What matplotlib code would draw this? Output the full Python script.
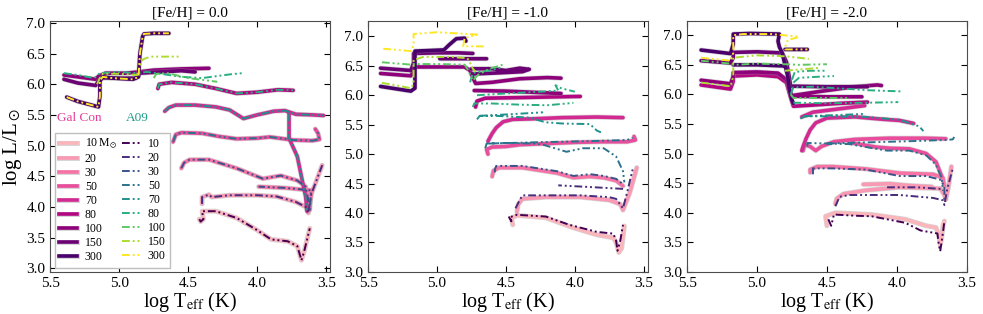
import numpy as np
import matplotlib
matplotlib.use('Agg')
import matplotlib.pyplot as plt
import matplotlib.patheffects as pe
from matplotlib.lines import Line2D

plt.rcParams['font.family'] = ['Liberation Serif', 'DejaVu Serif']
plt.rcParams['mathtext.fontset'] = 'stix'

nan = np.nan

masses = [10, 20, 30, 50, 70, 80, 100, 150, 300]
titles = ['[Fe/H] = 0.0', '[Fe/H] = -1.0', '[Fe/H] = -2.0']

# tracks as (log Teff, log L); nan splits a track into strands

# ---- [Fe/H] = 0.0 ----
gc_z0_10 = [(4.42, 3.80), (4.41, 3.76), (4.39, 3.80), (4.40, 3.93), (4.30, 3.93), (4.15, 3.82), (4.00, 3.62),
            (3.90, 3.47), (3.78, 3.44), (3.71, 3.36), (3.68, 3.13), (3.66, 3.28), (3.62, 3.65)]
gc_z0_20 = [(4.40, 4.05), (4.40, 4.16), (4.35, 4.20), (4.33, 4.16), (4.20, 4.19), (4.00, 4.19), (3.86, 4.17),
            (3.72, 4.08), (3.65, 4.00), (3.63, 3.90), (3.61, 4.20), (3.53, 4.68)]
gc_z0_30 = [(4.55, 4.63), (4.53, 4.72), (4.49, 4.77), (4.35, 4.77), (4.15, 4.63), (3.96, 4.46), (3.83, 4.51),
            (3.71, 4.43), (3.65, 4.33), (3.63, 4.10), (3.62, 3.95), (3.61, 4.27), (3.80, 4.31), (3.99, 4.33)]
gc_z0_50 = [(4.61, 5.06), (4.59, 5.18), (4.55, 5.21), (4.40, 5.20), (4.28, 5.15), (4.15, 5.11), (4.00, 5.12),
            (3.91, 5.14), (3.74, 5.09), (3.60, 5.08), (3.55, 5.10), (3.56, 5.20), (3.58, 5.27)]
gc_z0_70 = [(4.67, 5.56), (4.64, 5.62), (4.59, 5.66), (4.45, 5.66), (4.30, 5.63), (4.20, 5.58), (4.10, 5.44),
            (4.00, 5.50), (3.88, 5.56), (3.80, 5.57), (3.72, 5.51), (3.60, 5.50), (3.52, 5.49), (nan, nan),
            (3.77, 5.52), (3.77, 5.12), (3.71, 4.82), (3.68, 4.49), (3.65, 4.17), (3.64, 3.93)]
gc_z0_80 = [(4.72, 5.93), (4.71, 6.00), (4.62, 6.03), (4.45, 6.00), (4.30, 5.93), (4.15, 5.85), (4.00, 5.87),
            (3.85, 5.91), (3.74, 5.90)]
gc_z0_100 = [(5.40, 6.15), (5.30, 6.12), (5.17, 6.08), (5.15, 6.13), (5.10, 6.18), (4.95, 6.18), (4.86, 6.20),
             (4.75, 6.23), (4.55, 6.25), (4.35, 6.26)]
gc_z0_150 = [(5.40, 6.08), (5.30, 6.02), (5.17, 5.98), (5.15, 6.05), (5.12, 6.10), (5.00, 6.10), (4.88, 6.10),
             (4.85, 6.18), (4.70, 6.20), (4.55, 6.22), (4.45, 6.20)]
gc_z0_300 = [(5.38, 5.79), (5.30, 5.72), (5.20, 5.66), (5.15, 5.63), (5.14, 5.80), (5.14, 6.05), (5.12, 6.12),
             (5.05, 6.10), (4.90, 6.08), (4.86, 6.12), (4.85, 6.50), (4.83, 6.78), (4.82, 6.82), (4.75, 6.83),
             (4.64, 6.83)]

# A09 sits on top of Gal Con for most masses at solar metallicity
a09_z0_10 = gc_z0_10
a09_z0_20 = gc_z0_20
a09_z0_30 = gc_z0_30
a09_z0_50 = gc_z0_50
a09_z0_70 = gc_z0_70
a09_z0_80 = [(5.40, 6.18), (5.30, 6.15), (5.18, 6.10), (5.14, 6.18), (5.00, 6.20), (4.87, 6.18), (4.80, 6.20),
             (4.70, 6.17), (4.55, 6.12), (4.40, 6.10), (4.20, 6.16), (4.11, 6.18), (nan, nan),
             (4.72, 5.93), (4.71, 6.00), (4.62, 6.03), (4.45, 6.00), (4.30, 5.93), (4.15, 5.85), (4.00, 5.87),
             (3.85, 5.91), (3.74, 5.90)]
a09_z0_100 = [(4.75, 6.10), (4.73, 6.17), (4.65, 6.18), (4.50, 6.10), (4.29, 6.04)]
a09_z0_150 = [(5.16, 6.00), (5.14, 6.10), (5.12, 6.17), (5.00, 6.17), (4.87, 6.15), (4.85, 6.30), (4.83, 6.40),
              (4.80, 6.43), (4.76, 6.45), (4.65, 6.45), (4.55, 6.45)]
a09_z0_300 = gc_z0_300

# ---- [Fe/H] = -1.0 ----
gc_z1_10 = [(4.45, 3.80), (4.46, 3.91), (4.42, 3.96), (4.21, 3.92), (4.01, 3.75), (3.84, 3.63), (3.72, 3.58),
            (3.70, 3.50), (3.68, 3.33), (3.66, 3.40), (3.64, 3.78)]
gc_z1_20 = [(4.42, 4.02), (4.41, 4.15), (4.38, 4.24), (4.21, 4.27), (3.96, 4.27), (3.75, 4.22), (3.67, 4.15),
            (3.65, 4.05), (3.60, 4.35), (3.55, 4.77)]
gc_z1_30 = [(4.60, 4.62), (4.59, 4.72), (4.55, 4.77), (4.38, 4.77), (4.13, 4.68), (4.01, 4.60), (3.89, 4.62),
            (3.79, 4.60), (3.70, 4.55), (3.65, 4.46)]
gc_z1_50 = [(4.63, 5.00), (4.64, 5.08), (4.60, 5.12), (4.50, 5.13), (4.40, 5.16), (4.20, 5.18), (4.00, 5.20),
            (3.80, 5.21), (3.62, 5.21), (3.56, 5.24), (3.57, 5.30)]
gc_z1_70 = [(4.63, 5.22), (4.60, 5.35), (4.57, 5.45), (4.52, 5.55), (4.45, 5.59), (4.30, 5.60), (4.09, 5.62),
            (3.84, 5.63), (3.65, 5.62)]
gc_z1_80 = [(4.72, 5.80), (4.71, 5.90), (4.65, 5.95), (4.40, 5.96), (4.20, 5.97), (3.96, 5.98)]
gc_z1_100 = [(5.41, 6.37), (5.19, 6.33), (5.17, 6.42), (5.17, 6.48), (5.00, 6.48), (4.80, 6.48), (4.76, 6.42),
             (4.74, 6.30), (4.72, 6.20), (4.60, 6.22), (4.40, 6.28), (4.20, 6.30), (4.10, 6.29), (nan, nan),
             (4.73, 6.08), (4.50, 6.07), (4.20, 6.04), (4.10, 6.03)]
gc_z1_150 = [(5.41, 6.46), (5.19, 6.42), (5.17, 6.55), (5.17, 6.71), (5.00, 6.72), (4.85, 6.72), (4.74, 6.71),
             (nan, nan), (4.98, 6.62), (4.80, 6.62), (4.64, 6.62), (nan, nan),
             (4.75, 6.45), (4.60, 6.45), (4.50, 6.42), (4.40, 6.46), (4.33, 6.44), (4.38, 6.40), (4.55, 6.38),
             (4.75, 6.36)]
gc_z1_300 = [(5.41, 6.15), (5.30, 6.11), (5.19, 6.07), (5.16, 6.12), (5.16, 6.45), (5.16, 6.75), (5.05, 6.76),
             (4.95, 6.77), (4.91, 6.86), (4.86, 6.96), (4.80, 6.97), (4.79, 6.92)]

a09_z1_10 = [(4.48, 3.94), (4.46, 3.86), (4.47, 3.93), (4.42, 3.97), (4.21, 3.94), (4.04, 3.80), (3.84, 3.68),
             (3.72, 3.65), (3.70, 3.53), (3.69, 3.36), (3.67, 3.53), (3.65, 3.80)]
a09_z1_20 = [(4.43, 4.08), (4.40, 4.22), (4.38, 4.30), (4.21, 4.30), (3.96, 4.30), (3.75, 4.27), (3.70, 4.24),
             (3.65, 4.08), (3.62, 4.35), (3.58, 4.74), (nan, nan), (3.65, 4.41), (3.80, 4.43), (4.12, 4.47)]
a09_z1_30 = [(4.58, 4.69), (4.58, 4.74), (4.57, 4.80), (4.38, 4.80), (4.13, 4.71), (4.01, 4.63), (3.89, 4.66),
             (3.79, 4.63), (3.70, 4.58), (3.65, 4.49)]
a09_z1_50 = [(4.65, 5.10), (4.64, 5.18), (4.50, 5.19), (4.30, 5.18), (4.23, 5.16), (4.06, 5.04), (3.94, 5.10),
             (3.79, 5.10), (3.70, 4.96), (3.65, 4.71), (3.64, 4.52), (nan, nan),
             (4.62, 5.18), (4.30, 5.20), (3.90, 5.22), (3.62, 5.24), (3.58, 5.28)]
a09_z1_70 = [(4.71, 5.59), (4.69, 5.65), (4.57, 5.65), (4.33, 5.62), (4.21, 5.54), (4.09, 5.52), (3.89, 5.51),
             (3.84, 5.40), (3.81, 5.37), (nan, nan), (4.69, 5.65), (4.45, 5.68), (4.23, 5.71)]
a09_z1_80 = [(4.74, 5.80), (4.73, 5.86), (4.60, 5.86), (4.40, 5.84), (4.20, 5.83), (4.01, 5.87), (nan, nan),
             (4.71, 6.00), (4.50, 6.03), (4.25, 6.06), (4.12, 6.08), (4.14, 6.17), (4.10, 6.12), (4.00, 6.06),
             (nan, nan), (4.76, 6.22), (4.74, 6.38), (4.62, 6.42), (4.52, 6.48)]
a09_z1_100 = [(5.40, 6.56), (5.19, 6.52), (5.17, 6.53), (5.00, 6.53), (4.80, 6.52), (4.78, 6.45), (4.76, 6.35),
              (4.74, 6.25), (4.70, 6.35), (4.62, 6.45), (4.52, 6.52)]
a09_z1_150 = [(5.40, 6.21), (5.30, 6.17), (5.19, 6.12), (5.17, 6.20), (5.17, 6.60), (5.10, 6.65), (4.90, 6.65),
              (4.78, 6.63), (4.76, 6.55), (4.74, 6.45), (4.72, 6.40)]
a09_z1_300 = [(5.39, 6.79), (5.19, 6.75), (5.17, 6.85), (5.17, 7.04), (5.00, 7.07), (4.85, 7.05), (4.71, 7.03),
              (4.80, 6.97), (4.81, 6.83), (4.65, 6.83)]

# ---- [Fe/H] = -2.0 ----
gc_z2_10 = [(4.50, 3.78), (4.51, 3.94), (4.44, 4.00), (4.18, 3.97), (3.94, 3.89), (3.79, 3.78), (3.72, 3.75),
            (3.70, 3.62), (3.69, 3.46), (3.68, 3.56), (3.67, 3.78), (3.66, 3.86)]
gc_z2_20 = [(4.44, 4.15), (4.43, 4.24), (4.38, 4.32), (4.22, 4.38), (3.98, 4.43), (3.69, 4.41), (3.66, 4.30),
            (3.65, 4.22), (3.63, 4.45), (3.61, 4.78), (nan, nan), (4.24, 4.48), (4.05, 4.49), (3.91, 4.46),
            (3.75, 4.44)]
gc_z2_30 = [(4.62, 4.68), (4.62, 4.73), (4.57, 4.78), (4.46, 4.78), (4.22, 4.74), (3.98, 4.67), (3.74, 4.65),
            (3.67, 4.59), (3.66, 4.45)]
gc_z2_50 = [(4.67, 5.05), (4.66, 5.15), (4.62, 5.12), (4.58, 5.05), (4.54, 5.12), (4.45, 5.20), (4.30, 5.24),
            (4.05, 5.26), (3.80, 5.26), (3.65, 5.25), (nan, nan), (4.32, 5.18), (4.15, 5.11), (4.05, 5.09),
            (3.91, 5.08), (3.79, 5.00), (3.72, 4.86), (3.68, 4.62)]
gc_z2_70 = [(4.68, 5.05), (4.67, 5.12), (4.65, 5.25), (4.62, 5.40), (4.58, 5.52), (4.50, 5.60), (4.30, 5.62),
            (4.10, 5.58), (3.98, 5.56), (3.88, 5.51), (nan, nan), (4.68, 5.62), (4.60, 5.70), (4.40, 5.76),
            (4.23, 5.81)]
gc_z2_80 = [(5.40, 6.16), (5.19, 6.09), (5.17, 6.22), (5.17, 6.31), (5.00, 6.33), (4.85, 6.30), (4.79, 6.20),
            (4.76, 5.95), (4.74, 5.80), (4.60, 5.82), (4.40, 5.85), (4.21, 5.87)]
gc_z2_100 = [(5.40, 6.24), (5.19, 6.18), (5.17, 6.30), (5.17, 6.37), (5.00, 6.38), (4.85, 6.36), (4.79, 6.25),
             (4.77, 6.10), (4.75, 5.97), (4.50, 5.96), (4.25, 5.96), (nan, nan),
             (4.75, 5.98), (4.55, 6.05), (4.30, 6.13), (4.14, 6.16), (4.11, 6.15)]
gc_z2_150 = [(5.40, 6.57), (5.19, 6.53), (5.17, 6.62), (5.17, 6.71), (5.00, 6.72), (4.82, 6.70), (4.79, 6.55),
             (4.77, 6.30), (4.76, 6.14), (4.50, 6.13), (4.21, 6.13)]
gc_z2_300 = [(5.40, 6.75), (5.19, 6.69), (5.17, 6.85), (5.17, 7.02), (5.05, 7.03), (4.84, 7.02), (4.85, 6.90),
             (4.84, 6.80), (4.82, 6.70), (4.80, 6.50), (4.78, 6.30), (4.77, 6.10), (4.75, 5.90), (4.74, 5.85),
             (nan, nan), (5.17, 6.50), (5.00, 6.50), (4.80, 6.48), (nan, nan), (4.80, 6.76), (4.64, 6.76)]

a09_z2_10 = [(4.49, 3.89), (4.47, 3.78), (4.45, 3.97), (4.30, 3.95), (4.18, 3.94), (3.94, 3.83), (3.83, 3.70),
             (3.71, 3.65), (3.70, 3.46), (3.69, 3.35), (3.67, 3.67), (3.66, 3.86)]
a09_z2_20 = [(4.44, 4.11), (4.41, 4.27), (4.34, 4.30), (3.98, 4.30), (3.74, 4.25), (3.67, 4.21), (3.66, 4.13),
             (3.64, 4.40), (3.60, 4.75), (nan, nan), (4.07, 4.43), (3.85, 4.43), (3.67, 4.40)]
a09_z2_30 = [(4.60, 4.65), (4.60, 4.75), (4.46, 4.75), (4.22, 4.73), (3.98, 4.62), (3.79, 4.62), (3.69, 4.56),
             (3.66, 4.45), (3.66, 4.21)]
a09_z2_50 = [(4.64, 5.12), (4.64, 5.18), (4.50, 5.17), (4.34, 5.16), (4.22, 5.11), (4.07, 5.05), (3.91, 5.05),
             (3.79, 4.97), (3.72, 4.81), (3.68, 4.59), (3.67, 4.37), (nan, nan),
             (4.50, 5.17), (4.20, 5.19), (3.90, 5.21), (3.65, 5.23), (3.60, 5.24), (3.59, 5.28)]
a09_z2_70 = [(4.69, 5.59), (4.66, 5.63), (4.50, 5.63), (4.22, 5.62), (3.98, 5.57), (3.84, 5.46), (3.81, 5.38),
             (nan, nan), (4.66, 5.63), (4.45, 5.65), (4.23, 5.67)]
a09_z2_80 = [(4.76, 6.00), (4.74, 6.12), (4.60, 6.13), (4.40, 6.10), (4.20, 6.07), (3.96, 6.05), (nan, nan),
             (4.74, 5.86), (4.50, 5.85), (4.20, 5.86), (3.99, 5.87), (nan, nan),
             (4.75, 6.25), (4.73, 6.38), (4.62, 6.40), (4.50, 6.40), (nan, nan),
             (4.74, 6.20), (4.70, 6.28), (4.55, 6.30), (4.45, 6.31)]
a09_z2_100 = [(5.40, 6.57), (5.19, 6.52), (5.17, 6.50), (5.00, 6.52), (4.80, 6.51), (4.70, 6.50), (4.50, 6.51),
              (nan, nan), (4.76, 6.00), (4.74, 5.94), (4.55, 5.94), (4.35, 5.94)]
a09_z2_150 = [(5.40, 6.20), (5.19, 6.14), (5.17, 6.30), (5.17, 6.62), (5.00, 6.66), (4.85, 6.65), (4.78, 6.64),
              (4.70, 6.62), (4.63, 6.60), (nan, nan), (4.80, 6.40), (4.70, 6.42), (4.55, 6.45)]
a09_z2_300 = [(5.40, 6.62), (5.19, 6.57), (5.17, 6.70), (5.17, 7.00), (5.10, 7.02), (4.90, 7.02), (4.72, 6.98),
              (4.70, 6.97), (4.78, 6.92), (4.80, 6.80), (4.80, 6.76), (4.64, 6.76)]

gc_tracks = [
    [gc_z0_10, gc_z0_20, gc_z0_30, gc_z0_50, gc_z0_70, gc_z0_80, gc_z0_100, gc_z0_150, gc_z0_300],
    [gc_z1_10, gc_z1_20, gc_z1_30, gc_z1_50, gc_z1_70, gc_z1_80, gc_z1_100, gc_z1_150, gc_z1_300],
    [gc_z2_10, gc_z2_20, gc_z2_30, gc_z2_50, gc_z2_70, gc_z2_80, gc_z2_100, gc_z2_150, gc_z2_300],
]
a09_tracks = [
    [a09_z0_10, a09_z0_20, a09_z0_30, a09_z0_50, a09_z0_70, a09_z0_80, a09_z0_100, a09_z0_150, a09_z0_300],
    [a09_z1_10, a09_z1_20, a09_z1_30, a09_z1_50, a09_z1_70, a09_z1_80, a09_z1_100, a09_z1_150, a09_z1_300],
    [a09_z2_10, a09_z2_20, a09_z2_30, a09_z2_50, a09_z2_70, a09_z2_80, a09_z2_100, a09_z2_150, a09_z2_300],
]

gc_colors = plt.cm.RdPu(np.linspace(0.3, 1.0, len(masses)))
a09_colors = plt.cm.viridis(np.linspace(0.0, 1.0, len(masses)))
a09_dash = (0, (4, 1.5, 1, 1.5, 1, 1.5))
gc_fx = [pe.Stroke(linewidth=3.6, foreground='0.6', alpha=0.4), pe.Normal()]

xlims = [(5.48, 3.475), (5.5, 3.47), (5.5, 3.5)]
ylims = [(2.94, 7.03), (3.13, 7.26), (3.16, 7.24)]
lefts = [0.051, 0.3745, 0.699]
width = 0.2845

fig = plt.figure(figsize=(9.83, 3.14), dpi=100)
axes = [fig.add_axes([l, 0.134, width, 0.799]) for l in lefts]

for k, ax in enumerate(axes):
    for m, tr in enumerate(gc_tracks[k]):
        arr = np.array(tr, dtype=float)
        ax.plot(arr[:, 0], arr[:, 1], color=gc_colors[m], lw=2.6, solid_capstyle='round',
                path_effects=gc_fx, zorder=2)
    for m, tr in enumerate(a09_tracks[k]):
        arr = np.array(tr, dtype=float)
        ax.plot(arr[:, 0], arr[:, 1], color=a09_colors[m], lw=1.4, ls=a09_dash, zorder=3)
    ax.set_xlim(*xlims[k])
    ax.set_ylim(*ylims[k])
    ax.set_xticks([5.5, 5.0, 4.5, 4.0, 3.5])
    ax.set_yticks(np.arange(3.0, 7.01, 0.5))
    ax.tick_params(direction='in', top=True, right=True, labelsize=11, length=4)
    ax.set_title(titles[k], fontsize=11, pad=3)
    ax.set_xlabel(r'log T$_{\rm eff}$ (K)', fontsize=14.5, labelpad=0)
    for s in ax.spines.values():
        s.set_color('0.3')

axes[0].set_ylabel(r'log L/L$_\odot$', fontsize=15)
axes[0].yaxis.set_label_coords(-0.095, 0.5)

# legend: Gal Con in first column, A09 in second
handles = []
labels = []
for m, M in enumerate(masses):
    handles.append(Line2D([], [], color=gc_colors[m], lw=2.6, path_effects=gc_fx))
    labels.append(r'10$\,$M$_\odot$' if m == 0 else str(M))
for m, M in enumerate(masses):
    handles.append(Line2D([], [], color=a09_colors[m], lw=1.4, ls=a09_dash))
    labels.append(str(M))
leg = axes[0].legend(handles, labels, ncol=2, loc='lower left', bbox_to_anchor=(0.01, 0.008),
                     fontsize=8.5, labelspacing=0.17, handlelength=1.5, columnspacing=0.4,
                     handletextpad=0.65, borderpad=0.35, borderaxespad=0.2, framealpha=1.0,
                     edgecolor='0.75', fancybox=False)
axes[0].text(0.025, 0.6, 'Gal Con', transform=axes[0].transAxes, color=plt.cm.RdPu(0.6), fontsize=9.5)
axes[0].text(0.27, 0.6, 'A09', transform=axes[0].transAxes, color=plt.cm.viridis(0.55), fontsize=9.5)

fig.savefig('out.png', dpi=100)
